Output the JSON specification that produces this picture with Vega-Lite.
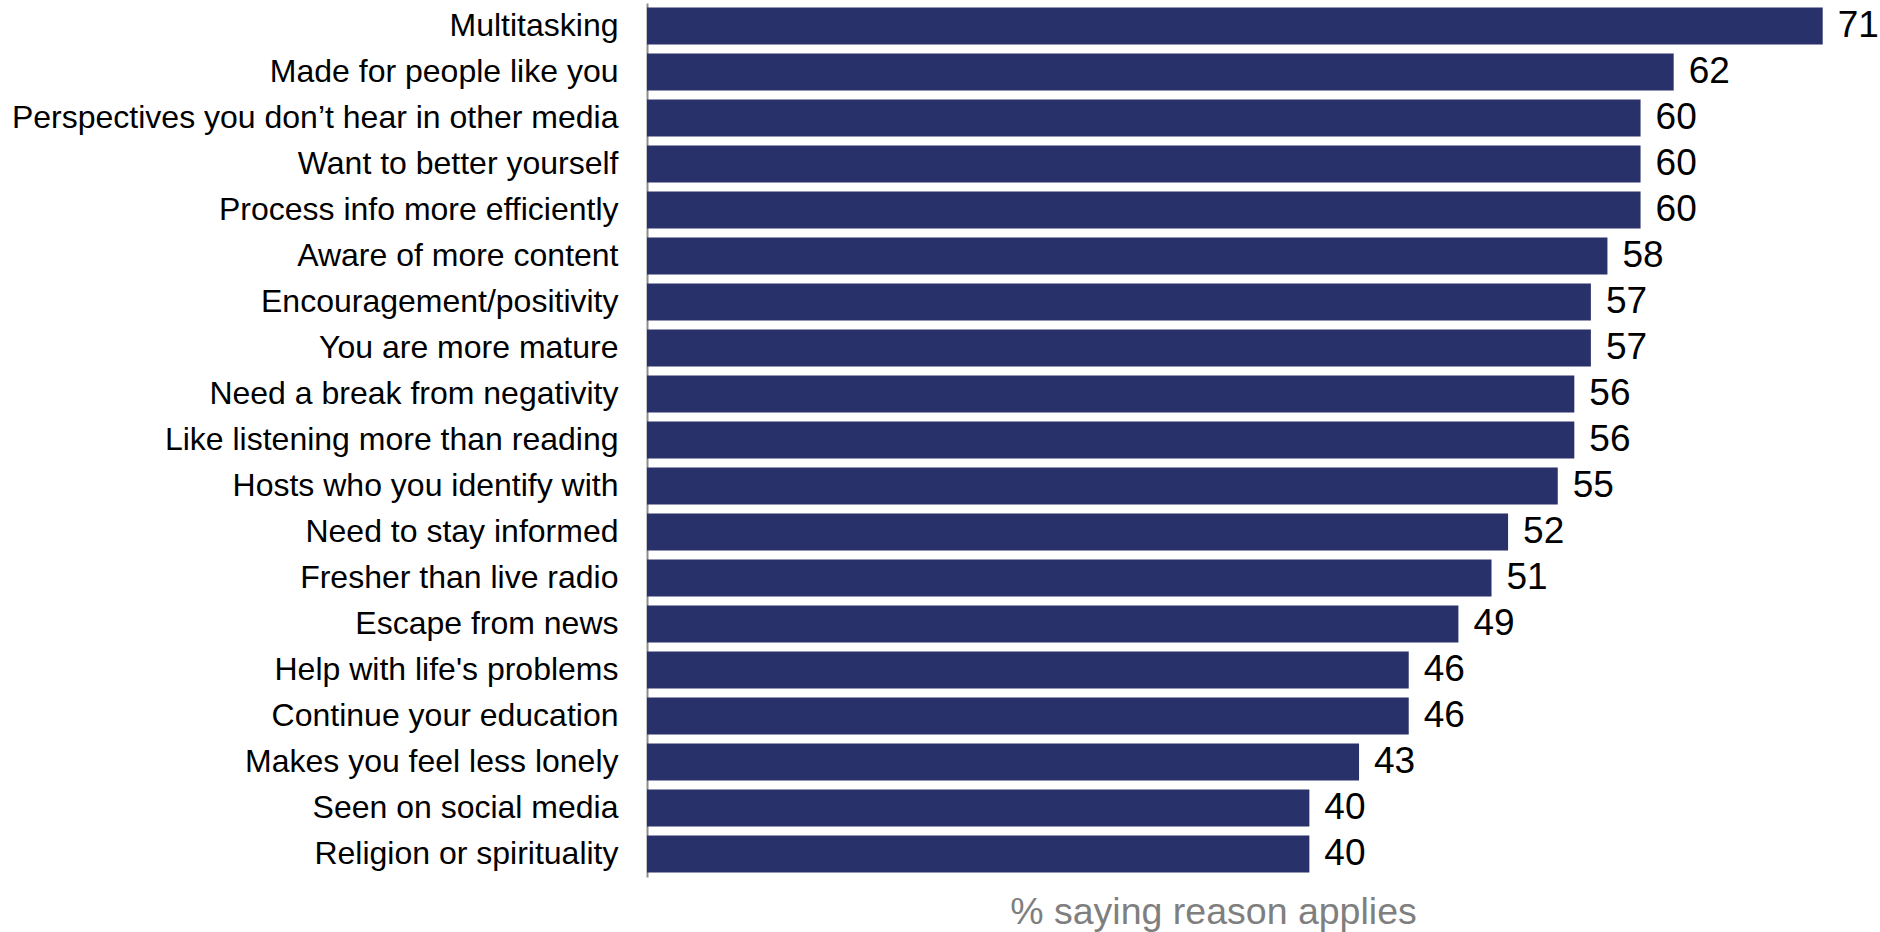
{
  "$schema": "https://vega.github.io/schema/vega-lite/v6.json",
  "autosize": {"type": "none"},
  "padding": {"left": 647, "top": 3, "right": 0, "bottom": 55},
  "width": 1233,
  "height": 874,
  "background": "white",
  "config": {"view": {"stroke": null}, "font": "Liberation Sans"},
  "data": {
    "values": [
      {"reason": "Multitasking", "pct": 71},
      {"reason": "Made for people like you", "pct": 62},
      {"reason": "Perspectives you don’t hear in other media", "pct": 60},
      {"reason": "Want to better yourself", "pct": 60},
      {"reason": "Process info more efficiently", "pct": 60},
      {"reason": "Aware of more content", "pct": 58},
      {"reason": "Encouragement/positivity", "pct": 57},
      {"reason": "You are more mature", "pct": 57},
      {"reason": "Need a break from negativity", "pct": 56},
      {"reason": "Like listening more than reading", "pct": 56},
      {"reason": "Hosts who you identify with", "pct": 55},
      {"reason": "Need to stay informed", "pct": 52},
      {"reason": "Fresher than live radio", "pct": 51},
      {"reason": "Escape from news", "pct": 49},
      {"reason": "Help with life's problems", "pct": 46},
      {"reason": "Continue your education", "pct": 46},
      {"reason": "Makes you feel less lonely", "pct": 43},
      {"reason": "Seen on social media", "pct": 40},
      {"reason": "Religion or spirituality", "pct": 40}
    ]
  },
  "encoding": {
    "y": {
      "field": "reason",
      "type": "nominal",
      "sort": null,
      "scale": {"paddingInner": 0.2, "paddingOuter": 0.1},
      "axis": {
        "title": null,
        "ticks": false,
        "labelFontSize": 32,
        "labelColor": "#000000",
        "labelPadding": 29,
        "labelLimit": 700,
        "domainColor": "#8c8c8c",
        "domainWidth": 2
      }
    },
    "x": {
      "field": "pct",
      "type": "quantitative",
      "scale": {"domain": [0, 74.46], "nice": false},
      "axis": {
        "title": "% saying reason applies",
        "titleFontSize": 37.5,
        "titleFontWeight": "normal",
        "titleColor": "#7f7f7f",
        "titleX": 566,
        "titleY": 46,
        "titleAlign": "center",
        "titleBaseline": "alphabetic",
        "titleAnchor": null,
        "domain": false,
        "ticks": false,
        "labels": false,
        "grid": false
      }
    }
  },
  "layer": [
    {"mark": {"type": "bar", "color": "#283169"}},
    {
      "mark": {"type": "text", "align": "left", "baseline": "middle", "dx": 15, "fontSize": 37, "color": "#000000"},
      "encoding": {"text": {"field": "pct", "type": "quantitative"}}
    }
  ]
}
